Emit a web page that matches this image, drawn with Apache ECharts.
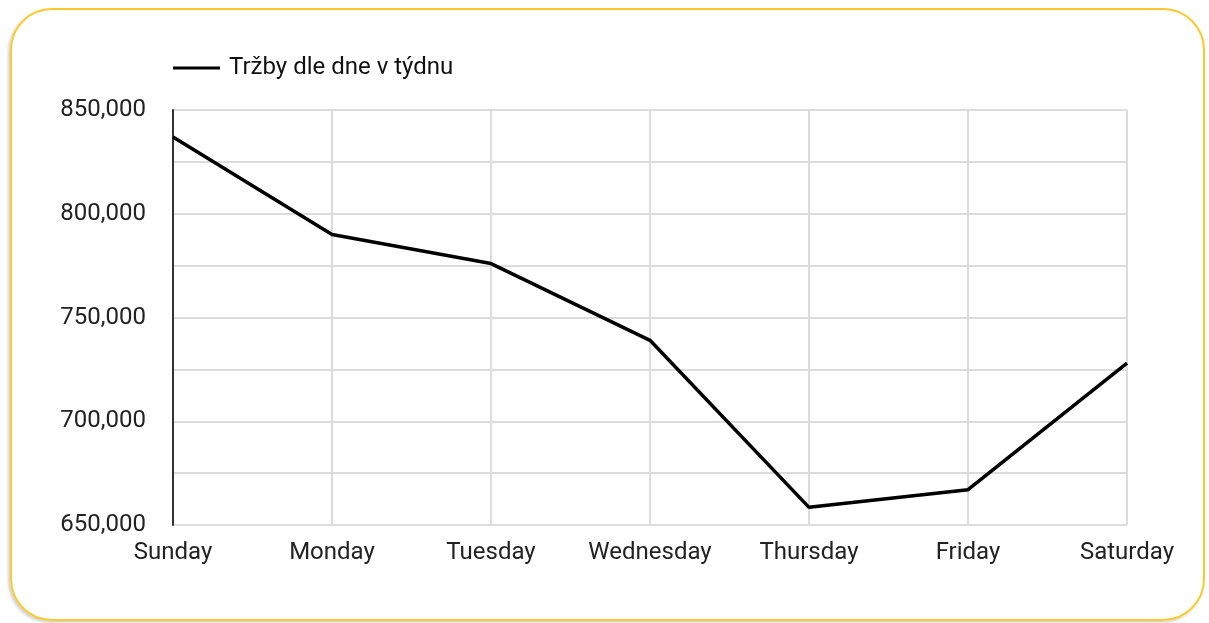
<!DOCTYPE html>
<html>
<head>
<meta charset="utf-8">
<script src="https://cdn.jsdelivr.net/npm/echarts@6/dist/echarts.min.js"></script>
<style>
  html, body { margin: 0; padding: 0; background: #fff; }
  #wrap { position: relative; width: 1209px; height: 623px; overflow: hidden; }
  #frame {
    position: absolute; left: 10px; top: 8px; width: 1191px; height: 609px;
    border: 2px solid #FBC92B; border-radius: 42px;
    box-shadow: -2px 2px 3px rgba(0,0,0,0.18);
    pointer-events: none;
  }
  #chart { position: absolute; left: 0; top: 0; width: 1209px; height: 623px; }
</style>
</head>
<body>
<div id="wrap">
  <div id="frame"></div>
  <div id="chart"></div>
</div>
<script>
// trzby podle dne v tydnu
var days = ['Sunday', 'Monday', 'Tuesday', 'Wednesday', 'Thursday', 'Friday', 'Saturday'];
var trzby = [837000, 790000, 776000, 739000, 658500, 667000, 728000];
var yTicks = [650000, 700000, 750000, 800000, 850000];

var fmt = function (v) {
  return String(v).replace(/\B(?=(\d{3})+(?!\d))/g, ',');
};

var chart = echarts.init(document.getElementById('chart'));

chart.setOption({
  animation: false,
  legend: {
    data: ['Tržby dle dne v týdnu'],
    left: 173,
    top: 56,
    padding: 0,
    icon: 'rect',
    itemWidth: 47,
    itemHeight: 3,
    textStyle: {
      color: '#111',
      fontSize: 24,
      fontFamily: 'Roboto',
      padding: [0, 0, 0, 4]
    }
  },
  grid: {
    left: 173,
    right: 82,
    top: 110,
    bottom: 98
  },
  xAxis: {
    type: 'category',
    data: days,
    boundaryGap: false,
    axisLine: { show: false },
    axisTick: { show: false },
    axisLabel: {
      interval: 0,
      color: '#222',
      fontSize: 24,
      fontFamily: 'Roboto',
      margin: 16
    },
    splitLine: {
      show: true,
      interval: 0,
      lineStyle: { color: '#dcdcdc', width: 2 }
    }
  },
  yAxis: {
    type: 'value',
    min: 650000,
    max: 850000,
    interval: 25000,
    axisLine: {
      show: true,
      lineStyle: { color: '#333', width: 2 }
    },
    axisTick: { show: false },
    axisLabel: {
      color: '#222',
      fontSize: 24,
      fontFamily: 'Roboto',
      margin: 27,
      padding: [3, 0, 0, 0],
      formatter: function (v) {
        return yTicks.indexOf(v) > -1 ? fmt(v) : '';
      }
    },
    splitLine: {
      show: true,
      lineStyle: { color: '#dcdcdc', width: 2 }
    }
  },
  series: [
    {
      name: 'Tržby dle dne v týdnu',
      type: 'line',
      data: trzby,
      symbol: 'none',
      lineStyle: { color: '#000', width: 3.5 },
      itemStyle: { color: '#000' }
    }
  ]
});
</script>
</body>
</html>
